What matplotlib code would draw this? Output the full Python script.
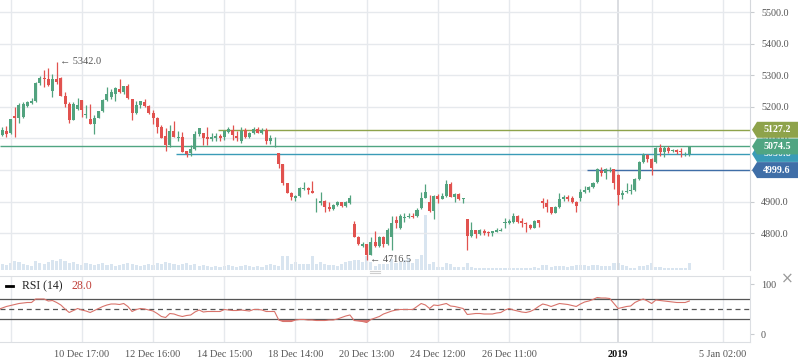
import matplotlib
matplotlib.use('Agg')
import matplotlib.pyplot as plt
from matplotlib.patches import Polygon
from matplotlib.lines import Line2D
from matplotlib.transforms import IdentityTransform
import numpy as np

# ---------------- data ----------------
opens = [5118, 5110, 5123, 5116, 5171, 5166, 5169, 5204, 5213, 5219,
         5276, 5292, 5288, 5251, 5288, 5292, 5235, 5208, 5158, 5192,
         5221, 5174, 5161, 5146, 5166, 5187, 5221, 5232, 5240, 5255,
         5246, 5266, 5225, 5179, 5206, 5215, 5204, 5179, 5166, 5137,
         5108, 5079, 5123, 5102, 5105, 5060, 5053, 5066, 5113, 5116,
         5105, 5098, 5102, 5108, 5105, 5119, 5127, 5109, 5092, 5126,
         5105, 5118, 5129, 5116, 5126, 5092, 5100, 5053, 5018, 4958,
         4928, 4910, 4918, 4939, 4944, 4935, 4894, 4894, 4903, 4884,
         4877, 4889, 4898, 4887, 4895, 4829, 4789, 4760, 4766, 4731,
         4773, 4760, 4789, 4766, 4789, 4842, 4815, 4849, 4850, 4854,
         4854, 4879, 4912, 4899, 4870, 4918, 4908, 4918, 4956, 4916,
         4924, 4908, 4845, 4792, 4810, 4797, 4808, 4805, 4800, 4805,
         4808, 4831, 4833, 4836, 4854, 4839, 4833, 4825, 4817, 4842,
         4902, 4897, 4882, 4865, 4884, 4907, 4915, 4912, 4900, 4912,
         4929, 4937, 4947, 4963, 4997, 4991, 4997, 5002, 4984, 4921,
         4929, 4933, 4937, 4970, 5025, 5047, 5035, 5025, 5070, 5057,
         5070, 5060, 5063, 5060, 5049, 5051]
closes = [5111, 5126, 5113, 5160, 5166, 5206, 5209, 5216, 5219, 5276,
          5292, 5287, 5269, 5288, 5280, 5235, 5208, 5158, 5208, 5206,
          5190, 5176, 5146, 5166, 5187, 5221, 5240, 5246, 5258, 5248,
          5266, 5227, 5179, 5206, 5217, 5204, 5179, 5166, 5137, 5102,
          5079, 5123, 5105, 5105, 5058, 5050, 5066, 5113, 5132, 5102,
          5098, 5105, 5106, 5102, 5124, 5129, 5111, 5100, 5123, 5105,
          5118, 5129, 5118, 5126, 5092, 5100, 5102, 5018, 4958, 4928,
          4916, 4919, 4942, 4942, 4937, 4928, 4897, 4903, 4884, 4877,
          4889, 4900, 4886, 4900, 4910, 4789, 4765, 4766, 4731, 4773,
          4760, 4789, 4766, 4810, 4831, 4831, 4854, 4852, 4854, 4850,
          4873, 4910, 4930, 4870, 4918, 4908, 4918, 4956, 4916, 4924,
          4908, 4910, 4792, 4810, 4797, 4810, 4800, 4800, 4806, 4810,
          4811, 4834, 4840, 4854, 4836, 4831, 4828, 4817, 4838, 4833,
          4897, 4882, 4865, 4884, 4907, 4913, 4908, 4900, 4886, 4929,
          4937, 4947, 4960, 5002, 4989, 5002, 5000, 4958, 4921, 4928,
          4933, 4937, 4970, 5025, 5047, 5035, 5007, 5070, 5058, 5070,
          5061, 5063, 5058, 5058, 5052, 5074.5]
highs = [5120, 5137, 5139, 5161, 5200, 5213, 5216, 5219, 5229, 5277,
         5298, 5316, 5324, 5303, 5342, 5294, 5248, 5214, 5214, 5229,
         5222, 5206, 5208, 5174, 5188, 5225, 5264, 5255, 5264, 5288,
         5267, 5271, 5226, 5219, 5219, 5225, 5206, 5190, 5167, 5142,
         5132, 5142, 5155, 5123, 5121, 5061, 5079, 5123, 5134, 5117,
         5137, 5116, 5116, 5113, 5126, 5137, 5142, 5123, 5136, 5132,
         5119, 5137, 5136, 5132, 5132, 5111, 5105, 5053, 5020, 4960,
         4931, 4921, 4945, 4962, 4947, 4966, 4910, 4931, 4905, 4900,
         4891, 4903, 4900, 4903, 4921, 4840, 4790, 4773, 4767, 4789,
         4808, 4790, 4790, 4815, 4854, 4854, 4861, 4863, 4865, 4863,
         4879, 4931, 4956, 4921, 4921, 4924, 4926, 4968, 4962, 4928,
         4928, 4911, 4846, 4835, 4811, 4812, 4813, 4808, 4808, 4817,
         4817, 4847, 4844, 4863, 4857, 4847, 4834, 4828, 4842, 4843,
         4912, 4909, 4884, 4886, 4926, 4921, 4921, 4918, 4902, 4940,
         4949, 4949, 4963, 5007, 5010, 5005, 5010, 5003, 4986, 4937,
         4960, 4955, 4974, 5028, 5055, 5051, 5037, 5074, 5082, 5076,
         5076, 5067, 5065, 5070, 5058, 5076]
lows = [5108, 5109, 5105, 5114, 5105, 5148, 5166, 5200, 5210, 5216,
        5269, 5264, 5267, 5232, 5271, 5234, 5200, 5150, 5157, 5190,
        5167, 5163, 5145, 5114, 5163, 5185, 5219, 5225, 5219, 5245,
        5242, 5226, 5158, 5177, 5196, 5200, 5176, 5144, 5116, 5101,
        5060, 5074, 5104, 5092, 5056, 5042, 5045, 5063, 5109, 5079,
        5079, 5092, 5092, 5092, 5095, 5116, 5095, 5092, 5084, 5102,
        5102, 5113, 5116, 5113, 5081, 5081, 5074, 5005, 4952, 4926,
        4905, 4903, 4916, 4937, 4924, 4926, 4868, 4889, 4868, 4871,
        4873, 4887, 4882, 4884, 4892, 4787, 4763, 4757, 4716.5, 4730,
        4755, 4757, 4755, 4763, 4747, 4815, 4812, 4836, 4847, 4847,
        4852, 4875, 4910, 4866, 4845, 4894, 4907, 4916, 4915, 4900,
        4905, 4894, 4747, 4789, 4784, 4794, 4794, 4791, 4792, 4803,
        4807, 4815, 4829, 4833, 4833, 4820, 4805, 4812, 4815, 4821,
        4881, 4868, 4861, 4863, 4879, 4903, 4903, 4894, 4868, 4902,
        4926, 4931, 4944, 4960, 4981, 4973, 4995, 4940, 4889, 4907,
        4926, 4924, 4935, 4968, 5021, 5026, 4984, 5023, 5044, 5040,
        5053, 5056, 5051, 5042, 5044, 5044]
volumes = [500, 600, 500, 700, 900, 800, 600, 500, 400, 900,
           700, 600, 800, 1000, 900, 1100, 900, 700, 800, 600,
           500, 700, 600, 500, 600, 700, 500, 600, 400, 500,
           600, 700, 600, 500, 400, 500, 600, 500, 700, 600,
           800, 700, 600, 500, 600, 700, 500, 600, 400, 500,
           400, 300, 400, 300, 400, 500, 400, 300, 400, 500,
           400, 300, 400, 300, 500, 600, 500, 400,
           1400, 1400, 600, 800, 600, 600, 600, 1400, 600, 800,
           600, 500, 500, 400, 600, 800, 900, 1000, 1000, 800,
           1400, 800, 400, 600, 600, 600, 1100, 700, 800, 1000,
           1200, 700, 1100, 1500,
           5500, 600, 800, 300, 300, 700, 600, 300, 300, 300,
           700, 300, 200, 200, 200, 200, 200, 200, 200, 200,
           200, 200, 200, 200, 200, 200, 300, 200, 500, 500,
           300, 400, 400, 400, 300, 400, 500, 500, 500, 400,
           500, 500, 400, 400, 400, 700, 700, 500, 400, 200,
           200, 400, 400, 500, 700, 300, 300, 200, 200, 200,
           200, 200, 200, 700]
rsi = [49, 52, 55, 57, 59, 61, 62, 63, 63, 70,
       70, 70, 66, 67, 63, 58, 50, 43, 47, 51,
       48, 46, 43, 47, 51, 55, 58, 60, 60, 59,
       61, 55, 45, 49, 51, 50, 48, 46, 41, 35,
       33, 41, 40, 37, 35, 37, 38, 44, 48, 44,
       45, 45, 45, 45, 49, 48, 47, 47, 48, 47,
       46, 49, 49, 48, 45, 45, 45, 28, 25, 25,
       25, 28, 29, 29, 28, 28, 27, 27, 27, 28,
       28, 30, 33, 36, 38, 27, 26, 25, 23, 29,
       32, 35, 40, 43, 46, 48, 49, 49, 49, 49,
       55, 61, 58, 51, 58, 57, 59, 61, 56, 55,
       53, 51, 39, 40, 41, 41, 40, 40, 40, 42,
       43, 48, 51, 48, 46, 44, 43, 45, 49, 55,
       60, 58, 55, 58, 61, 60, 59, 57, 55, 60,
       64, 66, 69, 73, 72, 72, 71, 61, 51, 53,
       55, 56, 63, 67, 70, 66, 61, 68, 67, 66,
       65, 64, 63, 63, 63, 66]

level_prices = [5050.8, 5127.2, 5074.5, 4999.6]
level_labels = ['5050.8', '5127.2', '5074.5', '4999.6']
level_start = [43, 53, 0, 141]
level_colors = ['#3a9bb7', '#8ea34b', '#50a582', '#3f6ea7']

price_ticks = [4800, 4900, 5000, 5100, 5200, 5300, 5400, 5500]
rsi_ticks = [0, 100]
grid_pos = [3, 20, 37, 54, 71, 88, 105, 122, 139, 156, 173]
year_pos = 148
xtick_pos = [20, 37, 54, 71, 88, 105, 122, 148, 173]
xtick_labels = ['10 Dec 17:00', '12 Dec 16:00', '14 Dec 15:00', '18 Dec 14:00',
                '20 Dec 13:00', '24 Dec 12:00', '26 Dec 11:00', '2019', '5 Jan 02:00']
high_mark = (14, '5342.0')
low_mark = (88, '4716.5')
rsi_title = 'RSI (14)'
rsi_value = '28.0'

# ---------------- figure ----------------
W, H = 798, 363
fig = plt.figure(figsize=(W / 100, H / 100), dpi=100)
fig.patch.set_facecolor('white')
SERIF = ['Liberation Serif', 'DejaVu Serif']
TXT = '#555555'
GRID = '#e6e9ed'


def px_axes(x0, y0, x1, y1, **kw):
    return fig.add_axes([x0 / W, 1 - y1 / H, (x1 - x0) / W, (y1 - y0) / H], **kw)


XLIM = (0.48, 179.47)
vax = px_axes(0, 0, 750, 270)
ax = px_axes(0, 0, 750, 270, facecolor='none')
axr = px_axes(0, 276, 750, 342)

n = len(closes)
idx = np.arange(n)
o = np.array(opens, float)
c = np.array(closes, float)
hi = np.array(highs, float)
lo = np.array(lows, float)

# volume
vax.bar(idx, volumes, width=0.75, color='#d9e5f0', edgecolor='none')
vax.set_xlim(*XLIM)
vax.set_ylim(0, 27000)
vax.axis('off')

# grid
for g in grid_pos:
    ax.axvline(g, color=GRID, lw=1.0, zorder=0)
    axr.axvline(g, color=GRID, lw=1.0, zorder=0)
ax.axvline(year_pos, color='#d4d7db', lw=1.2, zorder=0)
axr.axvline(year_pos, color='#d4d7db', lw=1.2, zorder=0)
for p in price_ticks:
    ax.axhline(p, color=GRID, lw=1.0, zorder=0)

# candles
up = c >= o
green, red = '#52a37f', '#e1524f'
cols = np.where(up, green, red)
ax.vlines(idx, lo, hi, colors=cols, lw=0.9, zorder=3)
body_bottom = np.minimum(o, c)
body_h = np.maximum(np.abs(c - o), 2.5)
ax.bar(idx, body_h, bottom=body_bottom, width=0.72, color=cols, edgecolor='none', zorder=4)

# level lines
for p, s, col in zip(level_prices, level_start, level_colors):
    ax.hlines(p, s - 0.5 if s > 0 else XLIM[0], XLIM[1], colors=col, lw=1.0, zorder=2)

# hi / lo annotations
ax.annotate('\u2190 ' + high_mark[1], xy=(high_mark[0], hi[high_mark[0]]), xytext=(2.5, 0),
            textcoords='offset points', ha='left', va='center', fontsize=7.4, color=TXT,
            family=['Liberation Serif', 'DejaVu Sans'], zorder=6)
ax.annotate('\u2190 ' + low_mark[1], xy=(low_mark[0], lo[low_mark[0]]), xytext=(2.5, 0),
            textcoords='offset points', ha='left', va='center', fontsize=7.4, color=TXT,
            family=['Liberation Serif', 'DejaVu Sans'], zorder=6)

ax.set_xlim(*XLIM)
ax.set_ylim(4683.4, 5538.0)
ax.yaxis.tick_right()
ax.set_yticks(price_ticks)
ax.set_yticklabels(['%.1f' % p for p in price_ticks])
ax.tick_params(axis='y', length=3, color='#c9ccd0', pad=5, labelsize=7.3, labelcolor=TXT)
ax.set_xticks([])
for lab in ax.get_yticklabels():
    lab.set_family(SERIF)
for sp in ('left', 'top', 'bottom'):
    ax.spines[sp].set_visible(False)
ax.spines['right'].set_color('#d5d8dc')

# RSI panel
r = np.array(rsi, float)
axr.axhline(70, color='#555555', lw=0.9)
axr.axhline(30, color='#555555', lw=0.9)
axr.axhline(50, color='#555555', lw=0.9, ls=(0, (4, 3)))
axr.fill_between(idx, r, 30, where=r < 30, interpolate=True, color='#e0524f', alpha=0.75, lw=0)
axr.fill_between(idx, r, 70, where=r > 70, interpolate=True, color='#52a37f', alpha=0.5, lw=0)
axr.plot(idx, r, color='#d8736b', lw=0.8)
axr.set_xlim(*XLIM)
axr.set_ylim(-16, 116)
axr.yaxis.tick_right()
axr.set_yticks(rsi_ticks)
axr.set_yticklabels([str(t) for t in rsi_ticks])
axr.tick_params(axis='y', length=3, color='#c9ccd0', pad=5, labelsize=7.3, labelcolor=TXT)
axr.set_xticks(xtick_pos)
axr.set_xticklabels(xtick_labels)
axr.tick_params(axis='x', length=0, pad=5.5, labelsize=7.4, labelcolor=TXT)
for lab in axr.get_xticklabels() + axr.get_yticklabels():
    lab.set_family(SERIF)
for lab in axr.get_xticklabels():
    if lab.get_text() == '2019':
        lab.set_color('#111111')
        lab.set_fontweight('bold')
axr.spines['left'].set_visible(False)
for sp in ('top', 'bottom', 'right'):
    axr.spines[sp].set_color('#dcdfe3')

# RSI legend
fig.add_artist(Line2D([6, 13], [H - 286, H - 286], transform=IdentityTransform(),
                      color='black', lw=2))
fig.text(22 / W, 1 - 286 / H, rsi_title, ha='left', va='center', fontsize=8.5,
         color='#222222', family=SERIF)
fig.text(71 / W, 1 - 286 / H, rsi_value, ha='left', va='center', fontsize=8.5,
         color='#c0413b', family=SERIF)

# close icon and panel handle
fig.text(787 / W, 1 - 279 / H, '\u00d7', ha='center', va='center', fontsize=11,
         color='#9a9a9a', family=['DejaVu Sans'])
for yy in (270.5, 273):
    fig.add_artist(Line2D([370, 380], [H - yy, H - yy], transform=IdentityTransform(),
                          color='#cfcfcf', lw=0.8))

# price label boxes on right (layered: later boxes cover earlier ones)
fig.canvas.draw()
for k, (p, lab, col) in enumerate(zip(level_prices, level_labels, level_colors)):
    yd = ax.transData.transform((0, p))[1]
    pts = [(752, yd), (757, yd + 8), (798, yd + 8), (798, yd - 8), (757, yd - 8)]
    fig.add_artist(Polygon(pts, closed=True, transform=IdentityTransform(),
                           facecolor=col, edgecolor='none', zorder=10 + 2 * k))
    fig.text(777 / W, yd / H, lab, ha='center', va='center', fontsize=7.2,
             color='white', fontweight='bold', family=SERIF, zorder=11 + 2 * k)

fig.savefig('out.png', dpi=100, facecolor='white')
